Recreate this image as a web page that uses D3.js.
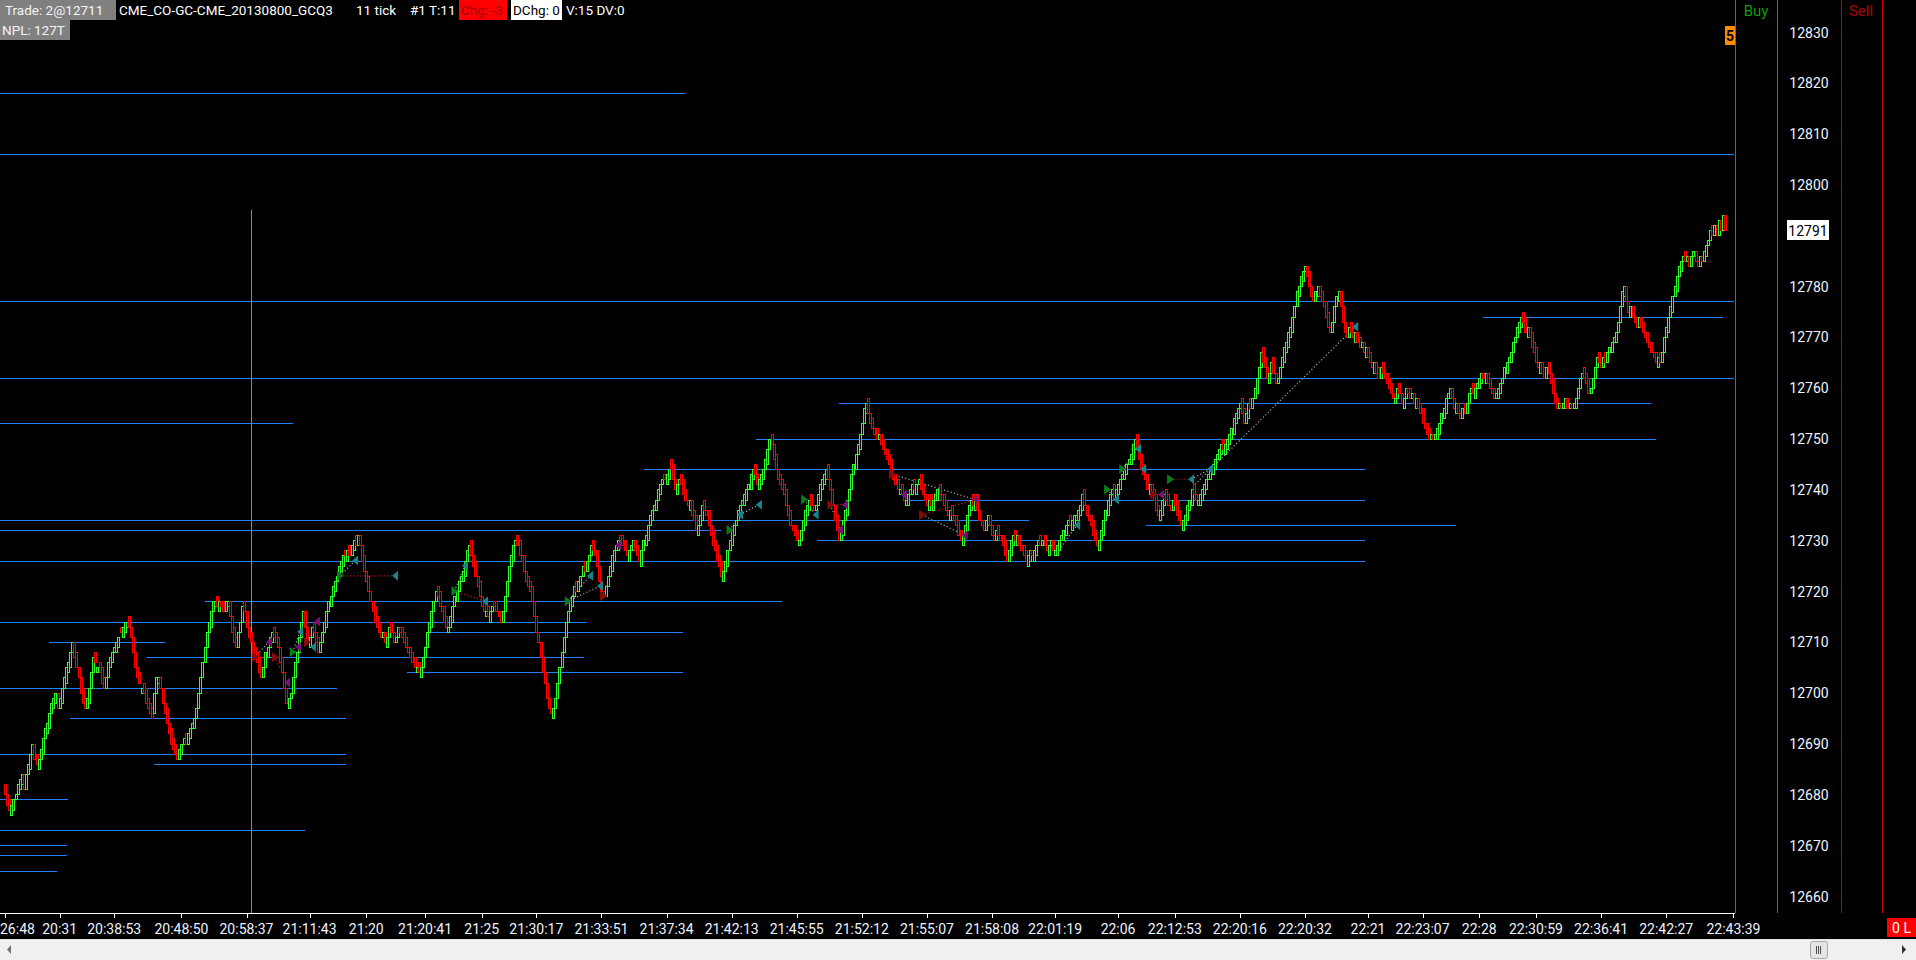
<!DOCTYPE html>
<html><head><meta charset="utf-8">
<script src="https://cdn.jsdelivr.net/npm/d3@7"></script>
<style>
html,body{margin:0;padding:0;background:#000;overflow:hidden}
svg{display:block}
text{font-family:Roboto,"Noto Sans",sans-serif;font-size:14px}
</style></head><body>
<svg id="c" width="1916" height="960"></svg>
<script>
// ---- DATA ----
// close of each 11-tick bar (price in ticks, e.g. 12791 = 1279.1)
const closes = [
12680,12678,12677,12678,12679,12680,12682,12683,12684,12681,
12684,12686,12688,12690,12687,12686,12687,12689,12691,12693,
12694,12696,12698,12699,12700,12697,12699,12701,12703,12705,
12706,12708,12710,12707,12705,12703,12700,12698,12697,12699,
12701,12704,12707,12706,12705,12704,12702,12701,12703,12706,
12707,12708,12709,12710,12711,12712,12713,12714,12714,12713,
12711,12708,12705,12703,12702,12701,12700,12698,12697,12696,
12695,12700,12703,12703,12701,12698,12696,12694,12692,12690,
12689,12688,12687,12689,12690,12691,12690,12692,12693,12694,
12695,12697,12700,12703,12706,12709,12712,12714,12716,12718,
12718,12717,12718,12717,12716,12718,12718,12715,12712,12710,
12709,12712,12714,12717,12716,12713,12711,12710,12708,12707,
12706,12704,12703,12705,12708,12709,12711,12712,12711,12710,
12709,12706,12704,12701,12698,12699,12700,12703,12706,12708,
12711,12714,12716,12713,12710,12711,12713,12712,12710,12708,
12710,12712,12714,12716,12718,12719,12721,12722,12723,12725,
12726,12727,12727,12728,12727,12729,12730,12729,12731,12729,
12726,12724,12722,12720,12718,12716,12714,12713,12712,12711,
12712,12710,12711,12713,12712,12710,12711,12713,12712,12711,
12710,12709,12708,12707,12706,12705,12705,12704,12705,12707,
12709,12712,12714,12716,12718,12720,12719,12717,12716,12714,
12713,12713,12715,12717,12719,12720,12722,12723,12724,12726,
12728,12729,12727,12725,12723,12721,12719,12717,12716,12716,
12715,12716,12717,12717,12716,12715,12714,12716,12719,12722,
12725,12727,12729,12730,12729,12727,12726,12724,12722,12721,
12720,12718,12715,12712,12710,12707,12704,12702,12699,12697,
12696,12697,12699,12702,12705,12708,12711,12714,12716,12718,
12719,12721,12720,12722,12723,12725,12724,12726,12727,12729,
12728,12727,12725,12722,12720,12719,12721,12723,12725,12727,
12728,12729,12730,12730,12729,12728,12727,12728,12729,12730,
12728,12727,12726,12728,12730,12731,12733,12735,12736,12737,
12738,12740,12741,12742,12742,12743,12744,12744,12742,12740,
12741,12742,12741,12739,12738,12737,12738,12735,12734,12732,
12733,12735,12737,12736,12735,12733,12731,12729,12728,12726,
12725,12723,12724,12726,12728,12730,12732,12733,12734,12736,
12737,12738,12739,12740,12741,12743,12744,12743,12741,12742,
12743,12744,12746,12748,12750,12749,12746,12744,12742,12741,
12740,12739,12737,12735,12733,12732,12731,12730,12730,12732,
12734,12736,12737,12738,12737,12736,12737,12739,12741,12742,
12743,12744,12742,12740,12737,12734,12732,12730,12732,12734,
12736,12738,12740,12743,12745,12747,12749,12751,12753,12756,
12757,12755,12753,12752,12751,12750,12751,12749,12748,12747,
12746,12745,12743,12742,12741,12740,12740,12739,12738,12738,
12739,12740,12741,12740,12741,12742,12740,12739,12738,12737,
12738,12737,12738,12739,12740,12739,12738,12737,12736,12735,
12736,12735,12734,12733,12731,12730,12731,12733,12735,12737,
12738,12737,12738,12736,12734,12733,12732,12734,12735,12733,
12731,12730,12732,12731,12730,12729,12727,12726,12728,12730,
12731,12730,12731,12729,12728,12727,12726,12727,12728,12727,
12728,12729,12730,12729,12730,12729,12728,12729,12730,12728,
12728,12729,12730,12731,12732,12733,12734,12733,12734,12735,
12735,12736,12737,12739,12737,12735,12734,12733,12731,12730,
12729,12730,12732,12734,12736,12738,12739,12740,12738,12740,
12741,12742,12743,12744,12745,12746,12747,12749,12750,12748,
12746,12744,12743,12742,12740,12741,12739,12738,12736,12735,
12736,12738,12739,12738,12737,12736,12738,12737,12735,12734,
12733,12734,12735,12737,12738,12740,12739,12738,12738,12739,
12740,12741,12742,12743,12744,12745,12746,12747,12748,12749,
12748,12749,12750,12751,12752,12754,12755,12756,12757,12755,
12753,12755,12757,12756,12758,12760,12762,12764,12767,12765,
12764,12762,12763,12765,12763,12761,12762,12764,12766,12768,
12769,12771,12772,12774,12776,12779,12780,12782,12783,12784,
12782,12780,12778,12777,12779,12780,12778,12777,12776,12774,
12772,12771,12773,12776,12778,12779,12776,12773,12771,12770,
12772,12771,12770,12771,12769,12768,12769,12767,12768,12766,
12765,12764,12765,12763,12762,12764,12763,12762,12761,12760,
12759,12758,12758,12760,12759,12757,12758,12760,12759,12758,
12759,12757,12758,12756,12755,12753,12752,12751,12750,12751,
12750,12751,12752,12753,12755,12756,12758,12759,12760,12758,
12756,12757,12755,12754,12756,12755,12757,12759,12760,12759,
12760,12761,12762,12763,12762,12763,12761,12760,12759,12758,
12759,12760,12761,12762,12764,12765,12766,12767,12769,12770,
12772,12773,12774,12773,12771,12772,12770,12768,12767,12765,
12764,12765,12763,12762,12764,12763,12761,12759,12757,12756,
12757,12756,12757,12758,12756,12757,12756,12757,12758,12760,
12762,12763,12762,12761,12759,12760,12762,12764,12766,12765,
12764,12766,12765,12767,12768,12769,12770,12771,12773,12776,
12779,12780,12777,12775,12776,12774,12773,12772,12774,12772,
12771,12770,12769,12768,12767,12766,12765,12766,12765,12767,
12770,12772,12774,12776,12778,12780,12782,12784,12785,12786,
12785,12786,12784,12786,12787,12785,12784,12786,12785,12787,
12788,12789,12791,12790,12792,12790,12793,12791,12794,12791
];
// body of each bar in ticks (close - open); >0 green, <0 red
const bodies = [
-2,-2,-2,2,2,1,2,2,2,-3,
3,2,3,2,-3,-2,2,2,3,2,
2,3,2,2,2,-3,2,3,2,3,
2,3,2,-3,-3,-2,-3,-3,-2,2,
3,3,3,-2,1,-2,-3,-2,2,3,
2,2,1,2,2,-1,2,2,1,-2,
-2,-3,-3,-2,-2,1,-2,-3,-2,-2,
-2,4,3,1,-2,-3,-2,-3,-2,-3,
-2,-2,-1,2,2,1,-2,2,2,1,
2,2,3,3,3,3,3,2,3,2,
1,-2,2,-1,-2,2,1,-3,-3,-3,
-2,3,2,3,-2,-3,-2,-2,-2,-2,
-2,-3,-2,2,3,2,2,2,-2,-2,
-2,-3,-3,-3,-3,2,1,3,3,2,
3,3,2,-3,-3,2,2,-2,-2,-3,
2,2,2,3,2,2,2,2,1,2,
2,2,-1,2,-2,2,2,-2,2,-2,
-3,-3,-2,-3,-2,-2,-3,-2,-2,-1,
1,-2,2,2,-2,-2,1,2,-1,-2,
-2,-2,-1,-2,-2,-2,1,-2,2,2,
2,3,2,3,2,2,-2,-3,-1,-3,
-2,1,2,3,2,2,2,1,2,3,
2,2,-3,-2,-3,-2,-3,-2,-2,1,
-2,2,1,-1,-2,-1,-2,2,3,3,
3,2,3,1,-2,-3,-1,-3,-2,-2,
-2,-3,-3,-3,-2,-3,-3,-2,-3,-2,
-1,2,2,3,3,3,3,3,2,2,
2,2,-2,2,2,2,-2,2,1,2,
-2,-1,-3,-3,-2,-1,2,2,2,3,
2,1,2,-1,-2,-2,-1,2,1,2,
-2,-2,-2,3,2,2,3,2,2,1,
2,2,2,1,-1,2,2,-2,-3,-2,
2,1,-2,-3,-2,-1,2,-3,-2,-3,
2,2,3,-2,-1,-3,-2,-3,-2,-3,
-2,-3,2,2,3,2,3,2,1,2,
2,1,2,2,1,3,2,-2,-2,2,
2,2,2,3,2,-2,-3,-3,-2,-2,
-2,-2,-3,-2,-3,-1,-2,-2,1,2,
2,3,2,2,-2,-1,1,2,3,2,
2,2,-3,-2,-3,-3,-3,-2,2,3,
2,3,2,3,2,3,2,3,2,3,
2,-3,-2,-2,-1,-2,1,-2,-2,-1,
-2,-2,-3,-1,-2,-2,1,-2,-1,1,
2,1,2,-2,2,1,-3,-2,-1,-2,
2,-2,2,1,2,-2,-1,-2,-2,-1,
2,-2,-1,-2,-3,-2,2,2,3,2,
2,-2,2,-3,-2,-1,-2,2,2,-2,
-2,-1,2,-2,-1,-2,-3,-2,2,3,
2,-2,2,-2,-1,-2,-2,2,2,-1,
2,2,1,-2,1,-2,-1,2,1,-2,
1,2,2,1,2,2,1,-2,2,2,
1,2,2,3,-3,-2,-1,-2,-3,-2,
-1,2,2,3,2,3,2,1,-3,2,
2,2,1,2,2,1,2,3,2,-3,
-2,-3,-2,-1,-3,2,-2,-2,-3,-2,
2,3,2,-2,-2,-1,2,-2,-3,-2,
-1,2,2,3,2,3,-2,-1,1,2,
2,2,2,1,2,2,2,1,2,2,
-2,2,2,2,2,3,2,2,1,-3,
-3,2,3,-2,2,2,3,2,3,-3,
-2,-2,2,2,-3,-2,1,2,2,3,
2,3,2,3,2,3,2,2,2,1,
-2,-3,-2,-1,2,2,-2,-2,-1,-3,
-3,-1,2,3,2,2,-3,-3,-2,-2,
2,-2,-1,2,-2,-2,1,-2,2,-2,
-2,-1,2,-2,-2,2,-2,-1,-2,-2,
-2,-1,1,2,-2,-2,2,2,-1,-2,
1,-2,2,-2,-2,-3,-1,-2,-2,1,
-1,1,2,2,2,2,3,1,2,-2,
-2,2,-2,-1,2,-2,2,2,1,-2,
2,1,2,2,-1,2,-2,-2,-1,-2,
1,2,2,1,2,2,1,2,2,1,
2,2,2,-2,-3,2,-2,-3,-2,-3,
-1,2,-2,-2,2,-2,-2,-3,-2,-2,
1,-1,1,2,-2,1,-1,1,2,2,
2,1,-2,-2,-3,1,2,2,2,-2,
-1,2,-2,2,1,2,1,2,2,3,
3,2,-3,-2,2,-2,-1,-2,2,-2,
-2,-1,-2,-1,-2,-1,-2,2,-2,2,
3,2,3,2,3,2,3,2,2,1,
-2,1,-2,2,1,-2,-1,2,-1,2,
2,1,2,-2,2,-2,3,-2,3,-3
];
const lastPrice = 12791;
const priceTicks = [12830,12820,12810,12800,12790,12780,12770,12760,12750,12740,12730,12720,12710,12700,12690,12680,12670,12660];
const tickIdx = [0,26,52,84,115,145,172,200,227,253,284,315,346,377,408,439,470,500,530,557,588,619,649,675,702,729,760,791,823];
const tickLabels = ["26:48","20:31","20:38:53","20:48:50","20:58:37","21:11:43","21:20","21:20:41","21:25","21:30:17","21:33:51","21:37:34","21:42:13","21:45:55","21:52:12","21:55:07","21:58:08","22:01:19","22:06","22:12:53","22:20:16","22:20:32","22:21","22:23:07","22:28","22:30:59","22:36:41","22:42:27","22:43:39"];
// horizontal levels: price, start bar index (null = left edge), end bar index (null = right edge)
const levelPrice = [12818,12806,12777,12774,12762,12757,12753,12750,12744,12738,12734,12733,12732,12730,12726,12718,12714,12712,12710,12707,12704,12701,12695,12688,12686,12679,12673,12670,12668,12665];
const levelFrom  = [null,null,null,703.8,null,397.1,null,357.6,304.3,428.1,null,543.3,null,386.7,null,95.2,null,201,21,67.6,191.4,null,31,null,71,null,null,null,null,null];
const levelTo    = [323.8,null,null,818.1,null,783.8,137.1,786.2,647.6,647.6,487.6,691,341,647.6,647.6,370,277,322.9,76.2,275.7,322.9,158.1,162.4,162.4,162.4,30,142.9,29.5,29.5,24.8];
// trade markers: bar index, price, kind
const markers = [
[159.5,12723,'L'],[185.7,12723,'XL'],[166.7,12726,'XL'],
[119,12707,'S'],[128.6,12707,'S'],[137,12708,'L'],[139.5,12709,'XS'],[140.5,12712,'XL'],[125.7,12710,'XS'],[134.3,12702,'XS'],[146.7,12709,'XL'],[143.8,12710,'S'],[148.6,12714,'XS'],
[214,12720,'L'],[228.6,12718,'XL'],[219,12725,'XL'],
[268,12718,'L'],[278.6,12723,'XL'],[283.3,12721,'XL'],[284.8,12719,'S'],[292,12729,'XS'],
[345,12732,'L'],[350,12735,'XL'],[359,12737,'XL'],
[380.5,12738,'L'],[386,12735,'XL'],[393,12737,'S'],[400,12737,'XS'],[397.6,12732,'XS'],
[422.4,12743,'S'],[428,12739,'XS'],[436.7,12735,'S'],[457,12731,'XS'],[462,12738,'XS'],
[510.5,12733,'XL'],[524.8,12740,'L'],[529,12738,'XL'],[532,12744,'L'],[539.5,12748,'XL'],[542,12744,'XL'],[546.7,12739,'S'],[550.5,12739,'XS'],[554.8,12742,'L'],[564.8,12742,'XL'],[573.8,12744,'XL'],
[642.9,12772,'XL']
];
const tradeLinks = [
[159.5,12723,185.7,12723,'r'],[159.5,12723,166.7,12726,'g'],
[119,12707,128.6,12707,'r'],[128.6,12707,134.3,12702,'r'],[119,12707,125.7,12710,'g'],
[137,12708,140.5,12712,'g'],[143.8,12710,148.6,12714,'r'],
[214,12720,228.6,12718,'r'],[214,12720,219,12725,'g'],
[268,12718,278.6,12723,'g'],[268,12718,283.3,12721,'g'],[284.8,12719,292,12729,'r'],
[345,12732,350,12735,'g'],[350,12735,359,12737,'g'],
[380.5,12738,386,12735,'g'],[393,12737,400,12737,'r'],[393,12737,397.6,12732,'g'],
[422.4,12743,462,12738,'g'],[422.4,12743,428,12739,'r'],[436.7,12735,457,12731,'g'],[436.7,12735,462,12738,'r'],
[500,12727,510.5,12733,'g'],[524.8,12740,529,12738,'g'],[532,12744,539.5,12748,'g'],[532,12744,542,12744,'r'],[546.7,12739,550.5,12739,'r'],[554.8,12742,564.8,12742,'r'],[564.8,12742,573.8,12744,'g'],
[566.7,12741,642.9,12772,'g']
];
const cursorIdx = 117, cursorTop = 12795;

// ---- LAYOUT ----
const W = 1916, H = 960, plotRight = 1735, axisY = 913;
const svg = d3.select('#c');
svg.append('rect').attr('width',W).attr('height',H).attr('fill','#000');
const N = closes.length;
const x = d3.scaleLinear().domain([0, N-1]).range([5, 1725]);
const y = d3.scaleLinear().domain([12660, 12830]).range([896, 32]);
const UP = '#2cff2c', DN = '#ff0000';

svg.append('clipPath').attr('id','pc').append('rect').attr('x',0).attr('y',0).attr('width',plotRight).attr('height',axisY);
const plot = svg.append('g').attr('clip-path','url(#pc)');

levelPrice.forEach((p,k)=>{
  const x0 = levelFrom[k]==null ? 0 : x(levelFrom[k]);
  const x1 = levelTo[k]==null ? plotRight-1 : x(levelTo[k]);
  const yy = Math.round(y(p)) + 0.5;
  plot.append('line').attr('x1',x0).attr('x2',x1).attr('y1',yy).attr('y2',yy)
    .attr('stroke','#2080ff').attr('stroke-width',1.2);
});
plot.append('line').attr('x1',Math.round(x(cursorIdx))+0.5).attr('x2',Math.round(x(cursorIdx))+0.5)
  .attr('y1',y(cursorTop)).attr('y2',axisY).attr('stroke','#8a8a8a');
tradeLinks.forEach(t=>{
  plot.append('line').attr('x1',x(t[0])).attr('y1',y(t[1])).attr('x2',x(t[2])).attr('y2',y(t[3]))
    .attr('stroke', t[4]==='r' ? '#d01010' : '#a8a8a8').attr('stroke-width',1.2).attr('stroke-dasharray','1.2,2.2');
});
const cg = plot.append('g');
closes.forEach((c,i)=>{
  const o = c - bodies[i];
  const col = bodies[i] > 0 ? UP : DN;
  const X = Math.round(x(i)) - 1;
  const yt = Math.round(y(Math.max(o,c))), yb = Math.round(y(Math.min(o,c)));
  cg.append('rect').attr('x',X+0.5).attr('y',yt+0.5).attr('width',2).attr('height',Math.max(1,yb-yt))
    .attr('fill','#000').attr('stroke',col).attr('stroke-width',1);
});
const mcol = {L:'#0a7a1a', S:'#8a0a0a', XL:'#17868c', XS:'#7a117a'};
markers.forEach(m=>{
  const cx = x(m[0]), cy = y(m[1]);
  let d;
  if (m[2]==='L' || m[2]==='S') d = `M${cx-3},${cy-5}L${cx+4},${cy}L${cx-3},${cy+5}Z`;
  else d = `M${cx+3},${cy-5}L${cx-3},${cy}L${cx+3},${cy+5}Z`;
  plot.append('path').attr('d',d).attr('fill',mcol[m[2]]);
});

// ---- RIGHT PANEL ----
[[1735.5,'#00b000'],[1777.5,'#00b000'],[1841.5,'#cc0000'],[1882.5,'#cc0000']].forEach(v=>{
  svg.append('line').attr('x1',v[0]).attr('x2',v[0]).attr('y1',0).attr('y2',axisY).attr('stroke',v[1]);
});
svg.append('text').attr('x',1756).attr('y',16).attr('text-anchor','middle').attr('fill','#109a10').style('font-size','15px').text('Buy');
svg.append('text').attr('x',1861).attr('y',16).attr('text-anchor','middle').attr('fill','#b00000').style('font-size','15px').text('Sell');
priceTicks.forEach(p=>{
  if (Math.abs(y(p) - y(lastPrice)) < 14) return; // hidden behind current-price box
  svg.append('text').attr('x',1809).attr('y',y(p)+5.5).attr('text-anchor','middle').attr('fill','#eef3ff').text(p);
});
svg.append('rect').attr('x',1787).attr('y',Math.round(y(lastPrice))-10).attr('width',42).attr('height',20).attr('fill','#fff');
svg.append('text').attr('x',1808).attr('y',y(lastPrice)+5.5).attr('text-anchor','middle').attr('fill','#000').text(lastPrice);
svg.append('rect').attr('x',1725).attr('y',26).attr('width',10).attr('height',19).attr('fill','#ff8c00');
svg.append('text').attr('x',1730).attr('y',41).attr('text-anchor','middle').attr('fill','#000').style('font-weight','bold').text('5');

// ---- TIME AXIS ----
svg.append('line').attr('x1',0).attr('x2',plotRight).attr('y1',axisY+0.5).attr('y2',axisY+0.5).attr('stroke','#fff');
tickIdx.forEach((t,k)=>{
  const tx = Math.round(x(t))+0.5;
  svg.append('line').attr('x1',tx).attr('x2',tx).attr('y1',axisY).attr('y2',axisY+5).attr('stroke','#fff');
  const first = k===0;
  svg.append('text').attr('x', first ? 0 : x(t)).attr('y',934).attr('text-anchor', first ? 'start' : 'middle')
    .attr('fill','#eef3ff').text(tickLabels[k]);
});
svg.append('rect').attr('x',1887).attr('y',918).attr('width',29).attr('height',19).attr('fill','#ff0000');
svg.append('text').attr('x',1901.5).attr('y',933).attr('text-anchor','middle').attr('fill','#fff').text('0 L');

// ---- SCROLLBAR ----
svg.append('rect').attr('x',0).attr('y',939).attr('width',W).attr('height',21).attr('fill','#f0f0f0');
svg.append('line').attr('x1',0).attr('x2',W).attr('y1',939.5).attr('y2',939.5).attr('stroke','#e2e2e2');
svg.append('path').attr('d','M11,945L7,949.5L11,954Z').attr('fill','#707070');
svg.append('path').attr('d','M1902,945L1906,949.5L1902,954Z').attr('fill','#303030');
svg.append('rect').attr('x',1810.5).attr('y',941.5).attr('width',17).attr('height',17).attr('rx',2).attr('fill','#e4e4e4').attr('stroke','#a8a8a8');
[1816.5,1818.5,1820.5].forEach(gx=>svg.append('line').attr('x1',gx).attr('x2',gx).attr('y1',946).attr('y2',954).attr('stroke','#505050'));

// ---- HEADER ----
function box(x0,y0,w,h,c){svg.append('rect').attr('x',x0).attr('y',y0).attr('width',w).attr('height',h).attr('fill',c);}
function txt(x0,yb,s,c){return svg.append('text').attr('x',x0).attr('y',yb).attr('fill',c).style('font-size','13.5px').text(s);}
box(0,0,116,20,'#808080');
txt(5,15,'Trade: 2@12711','#f4f4f4');
txt(119,15,'CME_CO-GC-CME_20130800_GCQ3','#ffffff');
txt(356,15,'11 tick','#ffffff');
txt(410,15,'#1 T:11','#ffffff');
box(459,0,48,20,'#ff0000');
txt(461,15,'Chg: -3','#9a0000');
box(511,0,51,20,'#ffffff');
txt(513,15,'DChg: 0','#000000');
txt(566,15,'V:15 DV:0','#ffffff');
box(0,20,70,20,'#808080');
txt(2,35,'NPL: 127T','#f4f4f4');
</script>
</body></html>
